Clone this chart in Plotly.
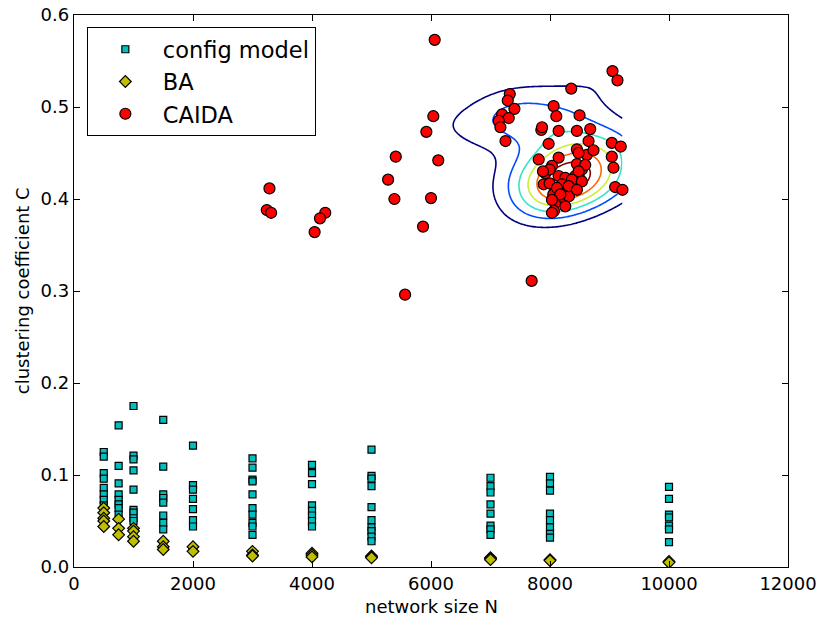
import numpy as np
import plotly.graph_objects as go

# ---------------- data ----------------
config_N = ([500] * 8 + [750] * 8 + [1000] * 9 + [1500] * 8 + [2000] * 7 + [3000] * 10
            + [4000] * 8 + [5000] * 10 + [7000] * 8 + [8000] * 8 + [10000] * 7)
config_C = [0.125, 0.120, 0.102, 0.096, 0.086, 0.079, 0.073, 0.067,
            0.154, 0.110, 0.091, 0.079, 0.073, 0.068, 0.064, 0.057,
            0.175, 0.121, 0.117, 0.105, 0.084, 0.062, 0.059, 0.053, 0.050,
            0.160, 0.109, 0.079, 0.075, 0.070, 0.056, 0.048, 0.041,
            0.132, 0.089, 0.084, 0.074, 0.063, 0.051, 0.044,
            0.118, 0.108, 0.095, 0.093, 0.079, 0.064, 0.057, 0.048, 0.044, 0.035,
            0.111, 0.102, 0.090, 0.067, 0.061, 0.056, 0.050, 0.044,
            0.1275, 0.099, 0.096, 0.088, 0.065, 0.051, 0.043, 0.039, 0.033, 0.028,
            0.097, 0.088, 0.081, 0.068, 0.058, 0.045, 0.041, 0.035,
            0.098, 0.091, 0.083, 0.058, 0.051, 0.043, 0.036, 0.032,
            0.087, 0.074, 0.057, 0.054, 0.045, 0.041, 0.027]

ba_N = ([500] * 5 + [750] * 3 + [1000] * 4 + [1500] * 3 + [2000] * 2 + [3000] * 3
        + [4000] * 3 + [5000] * 3 + [7000] * 3 + [8000] * 2 + [10000] * 2)
ba_C = [0.064, 0.059, 0.053, 0.050, 0.044,
        0.052, 0.042, 0.035,
        0.042, 0.039, 0.033, 0.028,
        0.028, 0.022, 0.019,
        0.022, 0.017,
        0.017, 0.013, 0.012,
        0.015, 0.013, 0.011,
        0.012, 0.011, 0.010,
        0.010, 0.009, 0.008,
        0.008, 0.007,
        0.006, 0.005]

caida_N = [6062, 6039, 5922, 5408, 6122, 5279, 5385, 6000, 5866, 5564, 3285, 3240, 3313,
           4223, 4134, 4044, 7692,
           9050, 9134, 8357, 7324, 7290, 7402, 8061, 7195, 7307, 7139, 7167, 8106, 8497,
           7252, 7854, 7866, 8145, 8452, 8676, 7977, 8648, 9039, 9189, 9039, 7810, 8145,
           8452, 8620, 8731, 9067, 8452, 8536, 8033, 7922, 7894, 9095, 9218, 8055, 8095,
           8234, 8318, 8067, 8257, 8396, 8508, 8424, 8480, 8592, 8480, 7994, 7882, 7994,
           8145, 8257, 8368, 8201, 8313, 8117, 8536, 8173, 8452, 8033, 8033]
caida_C = [0.573, 0.490, 0.473, 0.446, 0.442, 0.421, 0.400, 0.401, 0.370, 0.296, 0.4115, 0.388, 0.385,
           0.385, 0.379, 0.364, 0.311,
           0.539, 0.529, 0.520, 0.514, 0.507, 0.498, 0.501, 0.492, 0.488, 0.485, 0.478, 0.490, 0.491,
           0.463, 0.475, 0.478, 0.474, 0.474, 0.476, 0.460, 0.463, 0.461, 0.457, 0.446, 0.443, 0.445,
           0.454, 0.448, 0.453, 0.434, 0.438, 0.432, 0.436, 0.428, 0.416, 0.413, 0.410, 0.405, 0.396,
           0.401, 0.403, 0.387, 0.392, 0.416, 0.421, 0.425, 0.450, 0.437, 0.430, 0.432, 0.430, 0.417,
           0.425, 0.423, 0.421, 0.416, 0.414, 0.412, 0.419, 0.405, 0.410, 0.399, 0.385]

# Gaussian KDE of all CAIDA points, Scott's rule narrowed by this factor
kde_bw_scale = 0.8

x_ticks = [0, 2000, 4000, 6000, 8000, 10000, 12000]
y_ticks = [0.0, 0.1, 0.2, 0.3, 0.4, 0.5, 0.6]

# ---------------- KDE ----------------
pts = np.vstack([np.asarray(caida_N, float), np.asarray(caida_C, float)])
n, d = pts.shape[1], 2
cov = np.cov(pts) * (kde_bw_scale * n ** (-1.0 / (d + 4))) ** 2
inv = np.linalg.inv(cov)
norm = 1.0 / (2 * np.pi * np.sqrt(np.linalg.det(cov)) * n)
gx = np.linspace(pts[0].min(), pts[0].max(), 200)
gy = np.linspace(pts[1].min(), pts[1].max(), 160)
GX, GY = np.meshgrid(gx, gy)
dx = GX[..., None] - pts[0][None, None, :]
dy = GY[..., None] - pts[1][None, None, :]
m = inv[0, 0] * dx * dx + 2 * inv[0, 1] * dx * dy + inv[1, 1] * dy * dy
Z = norm * np.exp(-0.5 * m).sum(axis=-1)

nlev = 7
step = Z.max() / 7.0


def jet(v):
    r = np.interp(v, [0, 0.35, 0.66, 0.89, 1], [0, 0, 1, 1, 0.5])
    g = np.interp(v, [0, 0.125, 0.375, 0.64, 0.91, 1], [0, 0, 1, 1, 0, 0])
    b = np.interp(v, [0, 0.11, 0.34, 0.65, 1], [0.5, 1, 1, 0, 0])
    return "rgb(%d,%d,%d)" % (round(r * 255), round(g * 255), round(b * 255))


cscale = [[i / (nlev - 1), jet(i / (nlev - 1))] for i in range(nlev)]

font = "DejaVu Sans"
fig = go.Figure()

fig.add_trace(go.Contour(
    x=gx, y=gy, z=Z, autocontour=False,
    contours=dict(coloring="lines", start=step, end=step * (nlev - 0.5), size=step,
                  showlabels=False),
    colorscale=cscale, showscale=False, line=dict(width=1.6, smoothing=1),
    hoverinfo="skip", showlegend=False))

fig.add_trace(go.Scatter(
    x=config_N, y=config_C, mode="markers", name="config model",
    marker=dict(symbol="square", size=7, color="#00bfbf",
                line=dict(color="black", width=1.2))))
fig.add_trace(go.Scatter(
    x=ba_N, y=ba_C, mode="markers", name="BA",
    marker=dict(symbol="diamond", size=9, color="#bfbf00",
                line=dict(color="black", width=1.2))))
fig.add_trace(go.Scatter(
    x=caida_N, y=caida_C, mode="markers", name="CAIDA",
    marker=dict(symbol="circle", size=11, color="#ff0000",
                line=dict(color="black", width=1.2))))

axis_common = dict(showgrid=False, zeroline=False, showline=True, linecolor="black",
                   linewidth=1.3, mirror="ticks", ticks="inside", ticklen=6,
                   tickwidth=1, tickcolor="black", automargin=False,
                   tickfont=dict(family=font, size=18, color="black"))

fig.update_layout(
    width=823, height=617,
    margin=dict(l=74, r=35, t=15, b=50),
    paper_bgcolor="white", plot_bgcolor="white",
    font=dict(family=font, color="black"),
    xaxis=dict(range=[0, 12000], tickvals=x_ticks, tickformat="d", **axis_common),
    yaxis=dict(range=[0, 0.6], tickvals=y_ticks, tickformat=".1f", **axis_common),
    legend=dict(x=0.018, y=0.978, xanchor="left", yanchor="top",
                bordercolor="black", borderwidth=1, bgcolor="white", itemwidth=65,
                font=dict(family=font, size=22.5), traceorder="normal"),
    annotations=[
        dict(text="network size N", xref="paper", yref="paper", x=0.5, y=-0.072,
             xanchor="center", yanchor="middle", showarrow=False,
             font=dict(family=font, size=18, color="black")),
        dict(text="clustering coefficient C", xref="paper", yref="paper", x=-0.0725, y=0.5,
             xanchor="center", yanchor="middle", textangle=-90, showarrow=False,
             font=dict(family=font, size=18, color="black")),
    ],
)

fig.write_html("out.html")
